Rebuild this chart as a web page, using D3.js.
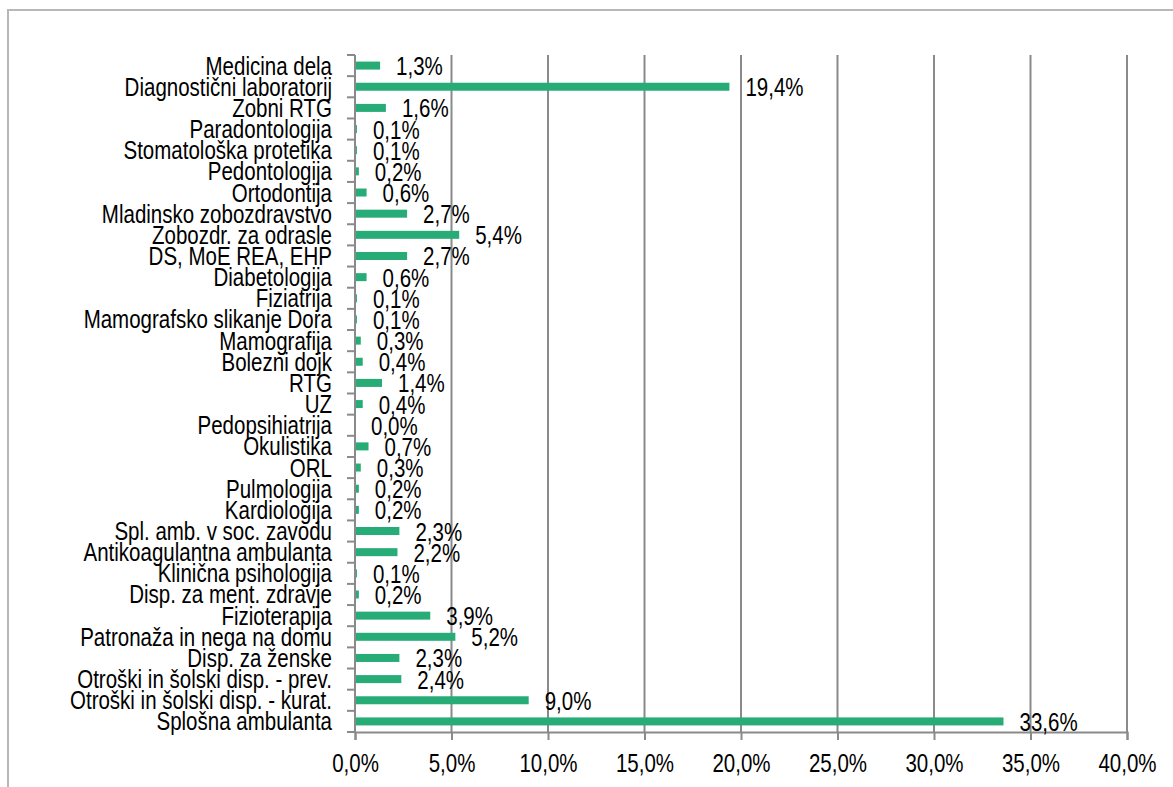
<!DOCTYPE html>
<html>
<head>
<meta charset="utf-8">
<script src="https://cdn.jsdelivr.net/npm/d3@7"></script>
<style>
  html, body { margin: 0; padding: 0; background: #ffffff; }
  svg { display: block; }
  text { font-family: "Liberation Sans", Arial, sans-serif; fill: #000; }
</style>
</head>
<body>
<svg id="chart" width="1173" height="787"></svg>
<script>
// Share of services by department (%), listed top to bottom
const categories = [
  "Medicina dela",
  "Diagnostični laboratorij",
  "Zobni RTG",
  "Paradontologija",
  "Stomatološka protetika",
  "Pedontologija",
  "Ortodontija",
  "Mladinsko zobozdravstvo",
  "Zobozdr. za odrasle",
  "DS, MoE REA, EHP",
  "Diabetologija",
  "Fiziatrija",
  "Mamografsko slikanje Dora",
  "Mamografija",
  "Bolezni dojk",
  "RTG",
  "UZ",
  "Pedopsihiatrija",
  "Okulistika",
  "ORL",
  "Pulmologija",
  "Kardiologija",
  "Spl. amb. v soc. zavodu",
  "Antikoagulantna ambulanta",
  "Klinična psihologija",
  "Disp. za ment. zdravje",
  "Fizioterapija",
  "Patronaža in nega na domu",
  "Disp. za ženske",
  "Otroški in šolski disp. - prev.",
  "Otroški in šolski disp. - kurat.",
  "Splošna ambulanta"
];

const shares = [
  1.3, 19.4, 1.6, 0.1, 0.1, 0.2, 0.6, 2.7, 5.4, 2.7,
  0.6, 0.1, 0.1, 0.3, 0.4, 1.4, 0.4, 0.0, 0.7, 0.3,
  0.2, 0.2, 2.3, 2.2, 0.1, 0.2, 3.9, 5.2, 2.3, 2.4,
  9.0, 33.6
];

const xTicks = [0, 5, 10, 15, 20, 25, 30, 35, 40];

const data = categories.map((c, i) => ({ name: c, value: shares[i] }));

const svg = d3.select("#chart");
const W = 1173, H = 787;
const margin = { left: 355, right: 46, top: 55, bottom: 55 };
const plotW = W - margin.left - margin.right;
const plotH = H - margin.top - margin.bottom;

const fmt = v => v.toFixed(1).replace(".", ",") + "%";

const gridColor = "#8a8a8a";
const barColor = "#27ab77";
const fontSize = 25;
const narrow = 0.82;   // horizontal squeeze for a condensed look

// outer frame
svg.append("rect")
  .attr("x", 8).attr("y", 10)
  .attr("width", W + 20).attr("height", H + 20)
  .attr("fill", "none")
  .attr("stroke", "#b8b8b8")
  .attr("stroke-width", 2);

const g = svg.append("g").attr("transform", `translate(${margin.left},${margin.top})`);

const x = d3.scaleLinear().domain([0, 40]).range([0, plotW]);
const y = d3.scaleBand().domain(categories).range([0, plotH]).paddingInner(0).paddingOuter(0);

// vertical gridlines
g.append("g")
  .selectAll("line")
  .data(xTicks.filter(t => t > 0))
  .join("line")
  .attr("x1", d => x(d)).attr("x2", d => x(d))
  .attr("y1", 0).attr("y2", plotH)
  .attr("stroke", gridColor)
  .attr("stroke-width", 2);

// bottom axis
const xAxis = d3.axisBottom(x)
  .tickValues(xTicks)
  .tickFormat(fmt)
  .tickSize(8)
  .tickPadding(14);

const gx = g.append("g").attr("transform", `translate(0,${plotH})`).call(xAxis);
gx.select(".domain").attr("stroke", gridColor).attr("stroke-width", 2);
gx.selectAll(".tick line").attr("stroke", gridColor).attr("stroke-width", 2);
gx.selectAll(".tick text")
  .attr("font-size", fontSize)
  .attr("font-family", "Liberation Sans, Arial, sans-serif")
  .attr("fill", "#000")
  .attr("dy", "0.71em")
  .attr("transform", `scale(${narrow},1)`);

// left axis: line with tick marks at category boundaries
const boundaries = d3.range(categories.length + 1).map(i => i * y.step());
const gy = g.append("g");
gy.append("line")
  .attr("x1", 0).attr("x2", 0).attr("y1", 0).attr("y2", plotH)
  .attr("stroke", gridColor).attr("stroke-width", 2);
gy.selectAll("line.tk")
  .data(boundaries)
  .join("line")
  .attr("class", "tk")
  .attr("x1", -8).attr("x2", 0)
  .attr("y1", d => d).attr("y2", d => d)
  .attr("stroke", gridColor).attr("stroke-width", 2);

// category labels
g.append("g")
  .selectAll("text")
  .data(data)
  .join("text")
  .attr("transform", d => `translate(-23,${y(d.name) + y.bandwidth() / 2 + 9}) scale(${narrow},1)`)
  .attr("text-anchor", "end")
  .attr("font-size", fontSize)
  .text(d => d.name);

// bars
const barH = 8;
g.append("g")
  .selectAll("rect")
  .data(data)
  .join("rect")
  .attr("x", 1)
  .attr("y", d => y(d.name) + y.bandwidth() / 2 - barH / 2)
  .attr("width", d => Math.max(0, x(d.value) - 1))
  .attr("height", barH)
  .attr("fill", barColor);

// value labels
g.append("g")
  .selectAll("text")
  .data(data)
  .join("text")
  .attr("transform", d => `translate(${x(d.value) + 16},${y(d.name) + y.bandwidth() / 2 + 9.5}) scale(${narrow},1)`)
  .attr("font-size", fontSize)
  .text(d => fmt(d.value));
</script>
</body>
</html>
